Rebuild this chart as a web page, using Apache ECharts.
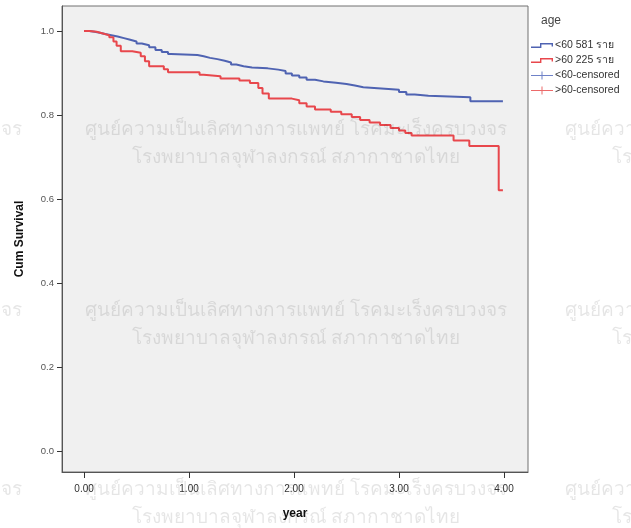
<!DOCTYPE html>
<html>
<head>
<meta charset="utf-8">
<script src="https://cdn.jsdelivr.net/npm/echarts@6/dist/echarts.min.js"></script>
<style>
html,body{margin:0;padding:0;background:#fff;}
#c{width:631px;height:528px;}
</style>
</head>
<body>
<div id="c"></div>
<script>
// Kaplan-Meier curves (time in years, cumulative survival)
const under60Time = [0.00,0.05,0.10,0.15,0.20,0.26,0.32,0.38,0.44,0.50,0.55,0.62,0.68,0.74,0.80,0.83,1.08,1.14,1.20,1.27,1.34,1.40,1.45,1.52,1.60,1.75,1.85,1.92,1.98,2.05,2.12,2.20,2.28,2.40,2.50,2.58,2.66,2.90,3.00,3.07,3.15,3.28,3.68,3.99];
const under60Surv = [1.000,0.998,0.996,0.993,0.990,0.987,0.983,0.979,0.975,0.970,0.966,0.961,0.955,0.950,0.945,0.943,0.940,0.936,0.933,0.929,0.925,0.920,0.916,0.913,0.911,0.908,0.905,0.899,0.894,0.889,0.884,0.880,0.877,0.874,0.870,0.866,0.862,0.860,0.855,0.849,0.846,0.842,0.833,0.833];
const over60Time = [0.00,0.05,0.12,0.18,0.24,0.28,0.31,0.35,0.46,0.54,0.58,0.62,0.76,0.80,1.10,1.14,1.30,1.48,1.58,1.66,1.70,1.76,1.98,2.05,2.12,2.20,2.35,2.45,2.55,2.63,2.72,2.82,2.92,3.00,3.06,3.12,3.52,3.67,3.95,3.99];
const over60Surv = [1.000,0.998,0.994,0.990,0.985,0.975,0.965,0.952,0.948,0.940,0.928,0.916,0.909,0.902,0.896,0.892,0.887,0.882,0.876,0.864,0.851,0.839,0.835,0.828,0.820,0.813,0.808,0.802,0.795,0.788,0.782,0.776,0.769,0.763,0.757,0.751,0.739,0.726,0.621,0.621];

const xTicks = [0, 1, 2, 3, 4];
const yTicks = [0, 0.2, 0.4, 0.6, 0.8, 1.0];
const legendNames = ['<60 581 ราย', '>60 225 ราย', '<60-censored', '>60-censored'];
const legendTitle = 'age';
const xTitle = 'year';
const yTitle = 'Cum Survival';
const wmLine1 = 'ศูนย์ความเป็นเลิศทางการแพทย์ โรคมะเร็งครบวงจร';
const wmLine2 = 'โรงพยาบาลจุฬาลงกรณ์ สภากาชาดไทย';

const pair = (t, s) => t.map((v, i) => [v, s[i]]);

const blue = '#4f63b2';
const red = '#e8474c';
const stepIcon = 'path://M0,6 L9,6 L9,2.5 L22,2.5 L22,6 L20.6,6 L20.6,3.9 L10.4,3.9 L10.4,7.4 L0,7.4 Z';
const plusIcon = 'path://M0,3.5 L22,3.5 L22,4.5 L0,4.5 Z M10.5,0 L11.5,0 L11.5,8 L10.5,8 Z';

const wm = [];
const wmCols = [-189, 296, 776];
const wmRows = [130, 311, 490];
const wmFont = '19px "Noto Sans", "DejaVu Sans", sans-serif';
wmRows.forEach(r => {
  wmCols.forEach(c => {
    wm.push({type:'text', z: 100, silent: true,
      style:{text: wmLine1, x: c, y: r, align:'center', verticalAlign:'middle',
        font: wmFont, fill:'rgba(0,0,0,0.10)'}});
    wm.push({type:'text', z: 100, silent: true,
      style:{text: wmLine2, x: c, y: r + 28, align:'center', verticalAlign:'middle',
        font: wmFont, fill:'rgba(0,0,0,0.10)'}});
  });
});

const chart = echarts.init(document.getElementById('c'), null, {renderer:'canvas'});
chart.setOption({
  animation: false,
  backgroundColor: '#ffffff',
  title: {text: legendTitle, left: 541, top: 15, padding: 0,
    textStyle:{fontSize: 12, fontWeight:'normal', color:'#444', fontFamily:'Liberation Sans, Arial, sans-serif'}},
  legend: {
    orient: 'vertical', left: 531, top: 40, padding: 0, itemWidth: 22, itemHeight: 8, itemGap: 4,
    textStyle: {fontSize: 10.5, color:'#333', fontFamily:'Liberation Sans, Arial, sans-serif', padding:[0,0,0,-3]},
    data: [
      {name: legendNames[0], icon: stepIcon},
      {name: legendNames[1], icon: stepIcon},
      {name: legendNames[2], icon: plusIcon},
      {name: legendNames[3], icon: plusIcon}
    ]
  },
  grid: {left: 62, top: 6, width: 466, height: 466, show: true,
    backgroundColor: '#f0f0f0', borderColor: '#707070', borderWidth: 1, containLabel: false},
  xAxis: {
    type: 'value', min: -0.21, max: 4.229,
    name: xTitle, nameLocation: 'middle', nameGap: 36,
    nameTextStyle: {fontSize: 12, fontWeight: 'bold', color:'#111', fontFamily:'Liberation Sans, Arial, sans-serif'},
    axisLine: {show: true, onZero: false, lineStyle:{color:'#555'}},
    axisTick: {show: true, inside: false, length: 6, lineStyle:{color:'#333'}, customValues: xTicks},
    axisLabel: {fontSize: 10, color:'#333', margin: 12, fontFamily:'Liberation Sans, Arial, sans-serif',
      customValues: xTicks, formatter: v => v.toFixed(2)},
    splitLine: {show: false}
  },
  yAxis: {
    type: 'value', min: -0.05, max: 1.0595,
    name: yTitle, nameLocation: 'middle', nameGap: 36, nameRotate: 90,
    nameTextStyle: {fontSize: 12, fontWeight: 'bold', color:'#111', fontFamily:'Liberation Sans, Arial, sans-serif'},
    axisLine: {show: true, onZero: false, lineStyle:{color:'#555'}},
    axisTick: {show: true, inside: false, length: 5, lineStyle:{color:'#333'}, customValues: yTicks},
    axisLabel: {fontSize: 9.5, color:'#555', margin: 8, fontFamily:'Liberation Sans, Arial, sans-serif',
      customValues: yTicks, formatter: v => v.toFixed(1)},
    splitLine: {show: false}
  },
  series: [
    {name: legendNames[0], type:'line', step:'end', data: pair(under60Time, under60Surv),
      showSymbol:false, color: blue, lineStyle:{width: 2, color: blue}},
    {name: legendNames[1], type:'line', step:'end', data: pair(over60Time, over60Surv),
      showSymbol:false, color: red, lineStyle:{width: 2, color: red}},
    {name: legendNames[2], type:'line', data: [], color: '#6f82c8'},
    {name: legendNames[3], type:'line', data: [], color: '#ec6a6a'}
  ],
  graphic: wm
});
</script>
</body>
</html>
